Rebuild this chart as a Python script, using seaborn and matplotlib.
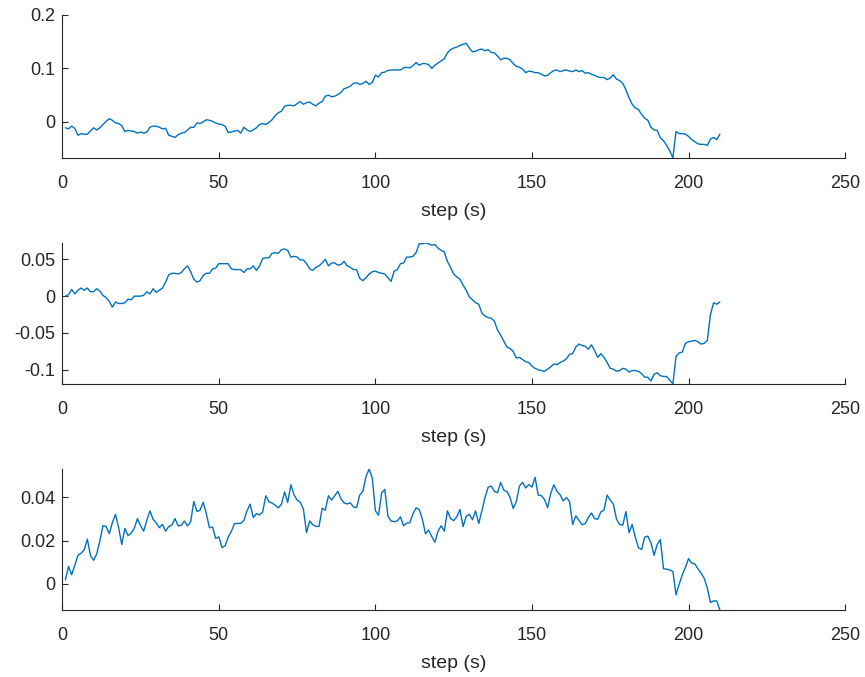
import numpy as np
import pandas as pd
import matplotlib
matplotlib.use("Agg")
import matplotlib.pyplot as plt
from matplotlib.ticker import FormatStrFormatter
import seaborn as sns

# time steps shared by all three traces
steps = list(range(1, 211))

signal_a = [
    -0.011, -0.013, -0.008, -0.012, -0.025, -0.022, -0.023, -0.023, -0.017, -0.011,
    -0.015, -0.011, -0.005, 0.001, 0.006, 0.003, -0.002, -0.003, -0.007, -0.018,
    -0.016, -0.017, -0.018, -0.021, -0.019, -0.021, -0.019, -0.010, -0.008, -0.008,
    -0.010, -0.013, -0.012, -0.025, -0.027, -0.029, -0.024, -0.021, -0.020, -0.015,
    -0.010, -0.010, -0.002, -0.003, 0.000, 0.004, 0.003, 0.001, -0.002, -0.004,
    -0.005, -0.008, -0.020, -0.019, -0.017, -0.016, -0.021, -0.010, -0.015, -0.018,
    -0.015, -0.011, -0.005, -0.003, -0.005, -0.001, 0.004, 0.012, 0.017, 0.020,
    0.029, 0.031, 0.031, 0.030, 0.034, 0.038, 0.033, 0.036, 0.037, 0.033,
    0.030, 0.035, 0.038, 0.048, 0.050, 0.047, 0.048, 0.051, 0.055, 0.062,
    0.064, 0.067, 0.072, 0.073, 0.070, 0.072, 0.076, 0.070, 0.074, 0.087,
    0.084, 0.092, 0.093, 0.096, 0.097, 0.097, 0.097, 0.097, 0.101, 0.102,
    0.101, 0.105, 0.111, 0.106, 0.109, 0.109, 0.107, 0.100, 0.106, 0.110,
    0.114, 0.118, 0.129, 0.135, 0.138, 0.140, 0.143, 0.145, 0.147, 0.138,
    0.131, 0.132, 0.135, 0.136, 0.133, 0.135, 0.130, 0.129, 0.123, 0.116,
    0.119, 0.119, 0.116, 0.109, 0.104, 0.102, 0.099, 0.092, 0.095, 0.094,
    0.092, 0.092, 0.089, 0.086, 0.087, 0.092, 0.096, 0.097, 0.094, 0.096,
    0.097, 0.095, 0.094, 0.097, 0.094, 0.096, 0.091, 0.092, 0.089, 0.087,
    0.084, 0.083, 0.083, 0.079, 0.082, 0.088, 0.080, 0.077, 0.072, 0.060,
    0.045, 0.033, 0.026, 0.023, 0.014, 0.007, 0.003, -0.010, -0.015, -0.016,
    -0.030, -0.035, -0.044, -0.054, -0.067, -0.018, -0.022, -0.022, -0.023, -0.027,
    -0.033, -0.037, -0.041, -0.042, -0.042, -0.044, -0.032, -0.029, -0.033, -0.023,
]

signal_b = [
    0.000, 0.002, 0.009, 0.003, 0.008, 0.011, 0.008, 0.011, 0.006, 0.006,
    0.010, 0.007, 0.001, -0.002, -0.007, -0.015, -0.008, -0.010, -0.010, -0.009,
    -0.004, -0.005, 0.000, 0.000, 0.000, 0.001, 0.006, 0.003, 0.010, 0.005,
    0.008, 0.011, 0.019, 0.029, 0.031, 0.031, 0.030, 0.032, 0.037, 0.041,
    0.033, 0.023, 0.019, 0.021, 0.028, 0.031, 0.031, 0.037, 0.038, 0.044,
    0.044, 0.044, 0.044, 0.037, 0.036, 0.036, 0.036, 0.032, 0.037, 0.037,
    0.041, 0.035, 0.041, 0.051, 0.052, 0.052, 0.058, 0.059, 0.058, 0.063,
    0.064, 0.062, 0.053, 0.054, 0.053, 0.049, 0.049, 0.044, 0.037, 0.035,
    0.039, 0.041, 0.045, 0.050, 0.041, 0.045, 0.045, 0.042, 0.043, 0.047,
    0.041, 0.039, 0.036, 0.036, 0.024, 0.021, 0.025, 0.030, 0.033, 0.034,
    0.032, 0.031, 0.030, 0.025, 0.020, 0.034, 0.036, 0.044, 0.045, 0.053,
    0.053, 0.054, 0.059, 0.071, 0.071, 0.072, 0.071, 0.069, 0.070, 0.065,
    0.062, 0.060, 0.047, 0.039, 0.030, 0.026, 0.023, 0.015, 0.008, -0.001,
    -0.005, -0.009, -0.011, -0.023, -0.027, -0.029, -0.030, -0.034, -0.046, -0.053,
    -0.061, -0.069, -0.071, -0.075, -0.084, -0.083, -0.086, -0.089, -0.090, -0.095,
    -0.098, -0.100, -0.101, -0.102, -0.099, -0.096, -0.092, -0.093, -0.090, -0.088,
    -0.085, -0.079, -0.078, -0.069, -0.065, -0.067, -0.068, -0.072, -0.066, -0.074,
    -0.083, -0.078, -0.083, -0.090, -0.098, -0.099, -0.102, -0.101, -0.098, -0.099,
    -0.103, -0.101, -0.101, -0.102, -0.105, -0.110, -0.110, -0.115, -0.106, -0.104,
    -0.108, -0.109, -0.109, -0.114, -0.119, -0.082, -0.077, -0.076, -0.064, -0.062,
    -0.061, -0.060, -0.062, -0.065, -0.064, -0.060, -0.025, -0.009, -0.011, -0.008,
]

signal_c = [
    0.0019, 0.0081, 0.0042, 0.0086, 0.0132, 0.0142, 0.0157, 0.0207, 0.0131, 0.0109,
    0.0139, 0.0198, 0.0269, 0.0266, 0.0232, 0.0283, 0.0322, 0.0260, 0.0182, 0.0257,
    0.0223, 0.0235, 0.0257, 0.0302, 0.0269, 0.0244, 0.0294, 0.0338, 0.0299, 0.0282,
    0.0260, 0.0275, 0.0244, 0.0265, 0.0272, 0.0302, 0.0269, 0.0271, 0.0291, 0.0268,
    0.0288, 0.0381, 0.0335, 0.0341, 0.0378, 0.0325, 0.0260, 0.0263, 0.0210, 0.0218,
    0.0168, 0.0176, 0.0217, 0.0243, 0.0279, 0.0280, 0.0280, 0.0294, 0.0338, 0.0369,
    0.0307, 0.0325, 0.0319, 0.0333, 0.0408, 0.0380, 0.0374, 0.0364, 0.0352, 0.0369,
    0.0426, 0.0377, 0.0459, 0.0412, 0.0388, 0.0378, 0.0346, 0.0237, 0.0291, 0.0274,
    0.0266, 0.0266, 0.0350, 0.0341, 0.0408, 0.0388, 0.0408, 0.0428, 0.0394, 0.0375,
    0.0370, 0.0375, 0.0356, 0.0353, 0.0412, 0.0428, 0.0497, 0.0531, 0.0490, 0.0338,
    0.0318, 0.0422, 0.0437, 0.0314, 0.0291, 0.0288, 0.0291, 0.0310, 0.0269, 0.0281,
    0.0283, 0.0324, 0.0352, 0.0344, 0.0299, 0.0232, 0.0249, 0.0219, 0.0193, 0.0244,
    0.0269, 0.0244, 0.0338, 0.0302, 0.0293, 0.0311, 0.0344, 0.0265, 0.0313, 0.0322,
    0.0297, 0.0338, 0.0279, 0.0338, 0.0400, 0.0447, 0.0453, 0.0428, 0.0422, 0.0470,
    0.0434, 0.0428, 0.0400, 0.0349, 0.0381, 0.0453, 0.0470, 0.0444, 0.0459, 0.0448,
    0.0493, 0.0411, 0.0408, 0.0391, 0.0353, 0.0419, 0.0459, 0.0428, 0.0412, 0.0384,
    0.0400, 0.0381, 0.0275, 0.0315, 0.0294, 0.0274, 0.0279, 0.0307, 0.0328, 0.0302,
    0.0299, 0.0333, 0.0341, 0.0411, 0.0388, 0.0369, 0.0299, 0.0275, 0.0272, 0.0335,
    0.0237, 0.0275, 0.0216, 0.0167, 0.0159, 0.0216, 0.0221, 0.0190, 0.0132, 0.0182,
    0.0205, 0.0070, 0.0068, 0.0064, 0.0058, -0.0051, -0.0002, 0.0042, 0.0076, 0.0117,
    0.0096, 0.0092, 0.0070, 0.0050, 0.0026, -0.0020, -0.0086, -0.0079, -0.0079, -0.0121,
]

x_ticks = [0, 50, 100, 150, 200, 250]
y_ticks_a = [0, 0.1, 0.2]
y_ticks_b = [-0.1, -0.05, 0, 0.05]
y_ticks_c = [0, 0.02, 0.04]

sns.set_style("ticks")
plt.rcParams["font.family"] = ["Liberation Sans", "DejaVu Sans"]

line_color = "#0072BD"
axis_color = "#262626"

fig = plt.figure(figsize=(8.65, 6.77), dpi=100)
positions = [
    [0.072, 0.767, 0.905, 0.211],
    [0.072, 0.433, 0.905, 0.208],
    [0.072, 0.099, 0.905, 0.208],
]

panels = [
    (signal_a, y_ticks_a, (min(signal_a), 0.2)),
    (signal_b, y_ticks_b, (min(signal_b), max(signal_b))),
    (signal_c, y_ticks_c, (min(signal_c), max(signal_c))),
]

for pos, (vals, yt, ylim) in zip(positions, panels):
    ax = fig.add_axes(pos)
    df = pd.DataFrame({"step": steps, "value": vals})
    sns.lineplot(data=df, x="step", y="value", ax=ax, color=line_color,
                 linewidth=1.0, estimator=None)
    ax.set_xlim(0, 250)
    ax.set_ylim(*ylim)
    ax.set_xticks(x_ticks)
    ax.set_yticks(yt)
    ax.yaxis.set_major_formatter(FormatStrFormatter("%g"))
    ax.set_xlabel("step (s)", fontsize=14, color=axis_color, labelpad=8)
    ax.set_ylabel("")
    for side in ("top", "right"):
        ax.spines[side].set_visible(False)
    for side in ("left", "bottom"):
        ax.spines[side].set_color(axis_color)
        ax.spines[side].set_linewidth(0.8)
    ax.tick_params(direction="in", length=4, width=0.8, colors=axis_color,
                   labelsize=13)
    ax.tick_params(axis="x", pad=12.5)
    ax.tick_params(axis="y", pad=5)

fig.savefig("out.png", dpi=100)
